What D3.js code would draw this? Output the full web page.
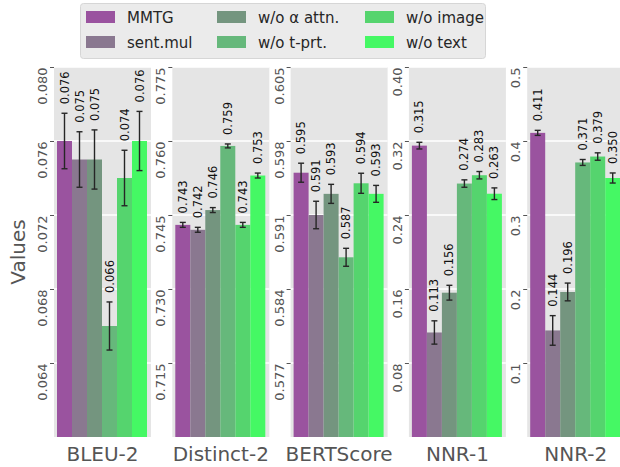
<!DOCTYPE html>
<html>
<head>
<meta charset="utf-8">
<script src="https://cdn.jsdelivr.net/npm/d3@7"></script>
<style>
  body { margin: 0; background: #fff; }
  svg { font-family: 'DejaVu Sans', sans-serif; }
</style>
</head>
<body>
<svg id="chart" width="620" height="467"></svg>
<script>
// Methods and metrics
const methods = ['MMTG', 'sent.mul', 'w/o α attn.', 'w/o t-prt.', 'w/o image', 'w/o text'];
const metrics = ['BLEU-2', 'Distinct-2', 'BERTScore', 'NNR-1', 'NNR-2'];
const colors = ['#9a539f', '#8a7890', '#74957f', '#66b87b', '#55d46e', '#45f864'];

// Series values (mean and error) per metric
const bleu2 = [0.076, 0.075, 0.075, 0.066, 0.074, 0.076];
const bleu2Err = [0.0015, 0.0015, 0.0016, 0.0013, 0.0015, 0.0016];
const distinct2 = [0.743, 0.742, 0.746, 0.759, 0.743, 0.753];
const distinct2Err = [0.0005, 0.0005, 0.0005, 0.0004, 0.0005, 0.0005];
const bertscore = [0.595, 0.591, 0.593, 0.587, 0.594, 0.593];
const bertscoreErr = [0.0009, 0.0013, 0.0009, 0.00085, 0.00095, 0.0008];
const nnr1 = [0.315, 0.113, 0.156, 0.274, 0.283, 0.263];
const nnr1Err = [0.0036, 0.0126, 0.008, 0.004, 0.004, 0.0063];
const nnr2 = [0.411, 0.144, 0.196, 0.371, 0.379, 0.350];
const nnr2Err = [0.0034, 0.02, 0.012, 0.004, 0.005, 0.0068];

// Axis ranges and tick labels
const yDomains = [[0.060, 0.080], [0.700, 0.775], [0.570, 0.605], [0, 0.40], [0, 0.5]];
const yTicks = [
  [0.064, 0.068, 0.072, 0.076, 0.080],
  [0.715, 0.730, 0.745, 0.760, 0.775],
  [0.577, 0.584, 0.591, 0.598, 0.605],
  [0.08, 0.16, 0.24, 0.32, 0.40],
  [0.1, 0.2, 0.3, 0.4, 0.5],
];
const tickFormats = ['.3f', '.3f', '.3f', '.2f', '.1f'];

const seriesList = [bleu2, distinct2, bertscore, nnr1, nnr2];
const errList = [bleu2Err, distinct2Err, bertscoreErr, nnr1Err, nnr2Err];

// Layout
const plotTop = 67;
const plotBottom = 437;
const panelW = 97;
const firstLeft = 54;
const step = 118.3;

const svg = d3.select('#chart');

metrics.forEach((metric, i) => {
  const px = firstLeft + i * step;
  const g = svg.append('g');

  const x = d3.scaleBand().domain(methods).range([px + 3, px + 93]).padding(0);
  const y = d3.scaleLinear().domain(yDomains[i]).range([plotBottom, plotTop]);

  // panel background
  g.append('rect')
    .attr('x', px).attr('y', plotTop)
    .attr('width', panelW).attr('height', plotBottom - plotTop)
    .attr('fill', '#e5e5e5');

  // grid lines
  g.selectAll('.grid')
    .data(yTicks[i])
    .join('line')
    .attr('x1', px).attr('x2', px + panelW)
    .attr('y1', (d) => y(d)).attr('y2', (d) => y(d))
    .attr('stroke', '#fff')
    .attr('stroke-width', 1.3);

  // y axis
  const axis = g.append('g')
    .attr('transform', `translate(${px},0)`)
    .call(d3.axisLeft(y).tickValues(yTicks[i]).tickSize(4).tickFormat(d3.format(tickFormats[i])));
  axis.select('.domain').remove();
  axis.selectAll('line').attr('stroke', '#555');
  axis.selectAll('text')
    .attr('x', null).attr('dy', null)
    .attr('transform', 'translate(-7,0) rotate(-90)')
    .attr('text-anchor', 'end')
    .attr('fill', '#555')
    .style('font-size', '13px')
    .style('font-family', "'DejaVu Sans', sans-serif");

  const vals = seriesList[i];
  const errs = errList[i];

  // bars
  g.selectAll('.bar')
    .data(methods)
    .join('rect')
    .attr('x', (d) => x(d))
    .attr('width', x.bandwidth())
    .attr('y', (d, j) => y(vals[j]))
    .attr('height', (d, j) => plotBottom - y(vals[j]))
    .attr('fill', (d, j) => colors[j]);

  // error bars
  methods.forEach((m, j) => {
    const cx = x(m) + x.bandwidth() / 2;
    const y1 = y(vals[j] + errs[j]);
    const y2 = y(vals[j] - errs[j]);
    g.append('line')
      .attr('x1', cx).attr('x2', cx).attr('y1', y1).attr('y2', y2)
      .attr('stroke', '#262626').attr('stroke-width', 1.4);
    [y1, y2].forEach((yy) => {
      g.append('line')
        .attr('x1', cx - 3).attr('x2', cx + 3).attr('y1', yy).attr('y2', yy)
        .attr('stroke', '#262626').attr('stroke-width', 1.4);
    });
    // value label
    g.append('text')
      .attr('transform', `translate(${cx + 4},${y1 - 9}) rotate(-90)`)
      .attr('text-anchor', 'start')
      .attr('fill', '#111')
      .style('font-size', '11.5px')
      .text(d3.format('.3f')(vals[j]));
  });

  // category label
  g.append('text')
    .attr('x', px + panelW / 2)
    .attr('y', 461)
    .attr('text-anchor', 'middle')
    .attr('fill', '#555')
    .style('font-size', '20px')
    .text(metric);
});

// y label
svg.append('text')
  .attr('transform', `translate(25,${(plotTop + plotBottom) / 2}) rotate(-90)`)
  .attr('text-anchor', 'middle')
  .attr('fill', '#555')
  .style('font-size', '20px')
  .text('Values');

// Legend
const legend = svg.append('g');
legend.append('rect')
  .attr('x', 80.5).attr('y', 3.5)
  .attr('width', 405).attr('height', 55)
  .attr('rx', 3)
  .attr('fill', '#ebebeb')
  .attr('stroke', '#d6d6d6');

const colX = [86, 217, 365];
const rowY = [11, 36];
methods.forEach((m, j) => {
  const col = Math.floor(j / 2);
  const row = j % 2;
  legend.append('rect')
    .attr('x', colX[col]).attr('y', rowY[row])
    .attr('width', 29).attr('height', 12)
    .attr('fill', colors[j]);
  legend.append('text')
    .attr('x', colX[col] + 41)
    .attr('y', rowY[row] + 12)
    .attr('fill', '#262626')
    .style('font-size', '15px')
    .text(m);
});
</script>
</body>
</html>
